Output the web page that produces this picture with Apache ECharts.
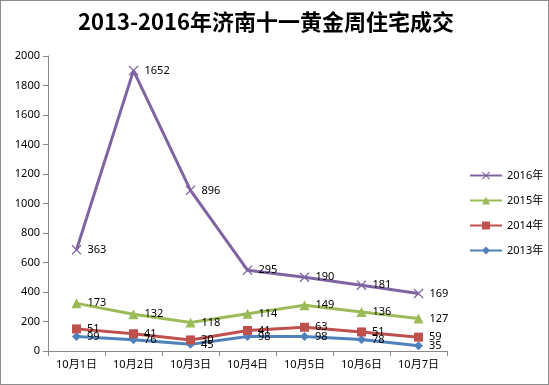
<!DOCTYPE html>
<html><head><meta charset="utf-8">
<script src="https://cdn.jsdelivr.net/npm/echarts@6/dist/echarts.min.js"></script>
<style>
html,body{margin:0;padding:0;background:#fff;}
#c{width:547px;height:383px;border:1px solid #8c8c8c;}
</style></head>
<body><div id="c"></div>
<script>
const categories = ['10月1日','10月2日','10月3日','10月4日','10月5日','10月6日','10月7日'];
const s2013 = [99, 76, 45, 98, 98, 78, 35];
const s2014 = [51, 41, 30, 41, 63, 51, 59];
const s2015 = [173, 132, 118, 114, 149, 136, 127];
const s2016 = [363, 1652, 896, 295, 190, 181, 169];
const yTicks = [0, 200, 400, 600, 800, 1000, 1200, 1400, 1600, 1800, 2000];

const crossPath = 'path://M0,0.9 L0.9,0 L5,4.1 L9.1,0 L10,0.9 L5.9,5 L10,9.1 L9.1,10 L5,5.9 L0.9,10 L0,9.1 L4.1,5 Z';
const font = '"Noto Sans", "Noto Sans CJK SC", sans-serif';

function mk(name, data, color, symbol, size){
  return {
    name, type:'line', stack:'total', data,
    symbol, symbolSize:size, showAllSymbol:true,
    lineStyle:{color, width:3},
    itemStyle:{color},
    label:{show:true, position:'right', distance:6, color:'#000', fontSize:11, fontFamily:font,
      formatter:p=>String(data[p.dataIndex])},
    z: 2
  };
}

const chart = echarts.init(document.getElementById('c'));
chart.setOption({
  animation:false,
  title:{text:'2013-2016年济南十一黄金周住宅成交', left:72, top:5,
    textStyle:{fontSize:22, fontWeight:'bold', color:'#000', fontFamily:'"Noto Sans CJK SC", sans-serif'}},
  legend:{orient:'vertical', left:463, top:164, itemGap:14, itemWidth:32, itemHeight:10,
    data:['2016年','2015年','2014年','2013年'],
    textStyle:{fontSize:11, color:'#000', fontFamily:font}},
  grid:{left:47, right:101, top:55, bottom:33, containLabel:false},
  xAxis:{type:'category', data:categories, boundaryGap:true,
    axisLine:{lineStyle:{color:'#888'}},
    axisTick:{show:true, alignWithLabel:false, length:5, lineStyle:{color:'#888'}},
    axisLabel:{color:'#000', fontSize:11, fontFamily:font, margin:8}},
  yAxis:{type:'value', min:yTicks[0], max:yTicks[yTicks.length-1], interval:yTicks[1]-yTicks[0],
    axisLine:{show:true, lineStyle:{color:'#888'}},
    axisTick:{show:true, length:5, lineStyle:{color:'#888'}},
    splitLine:{show:false},
    axisLabel:{color:'#000', fontSize:11, fontFamily:font, margin:8, formatter:v=>String(v)}},
  series:[
    mk('2013年', s2013, '#4F81BD', 'diamond', 9),
    mk('2014年', s2014, '#C0504D', 'rect', 9),
    mk('2015年', s2015, '#9BBB59', 'triangle', 10),
    mk('2016年', s2016, '#8064A2', crossPath, 10)
  ]
});
</script></body></html>
